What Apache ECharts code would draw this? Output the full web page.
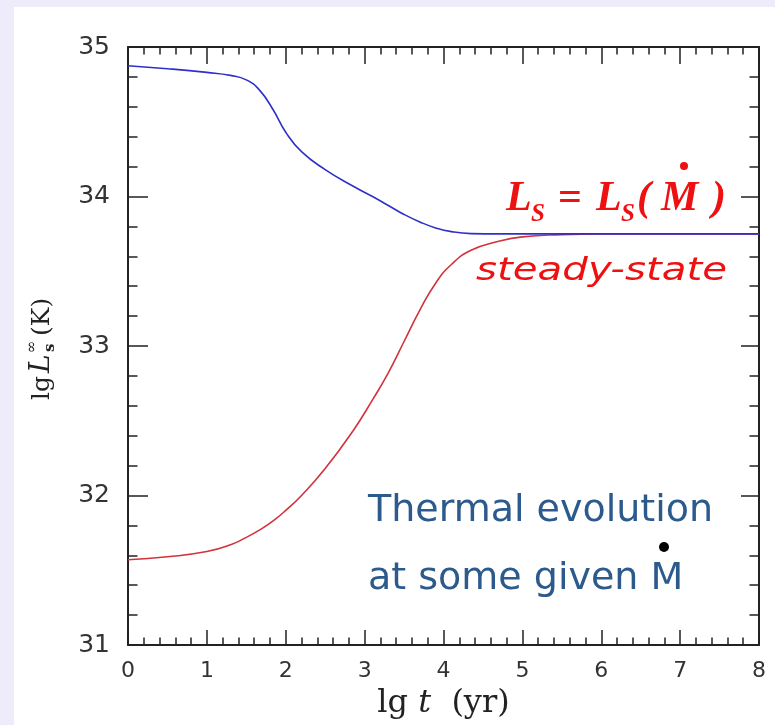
<!DOCTYPE html>
<html>
<head>
<meta charset="utf-8">
<script src="https://cdn.jsdelivr.net/npm/echarts@6/dist/echarts.min.js"></script>
<style>
  html, body { margin: 0; padding: 0; background: #ffffff; }
  #chart { width: 775px; height: 725px; }
</style>
</head>
<body>
<div id="chart"></div>
<script>
// lg t (yr) sample points shared by both cooling tracks
const lgT = [0, 0.5, 1, 1.3, 1.5, 1.67, 1.84, 2, 2.2, 2.5, 2.85, 3.1, 3.3, 3.5, 3.7, 3.9, 4.1, 4.35, 4.7, 5, 5.5, 6, 7, 8];
// hot initial star: luminosity falls to the steady-state value
const lumHot = [34.875, 34.855, 34.83, 34.81, 34.78, 34.71, 34.58, 34.43, 34.30, 34.18, 34.07, 34.00, 33.94, 33.88, 33.83, 33.79, 33.765, 33.752, 33.75, 33.75, 33.75, 33.75, 33.75, 33.75];
// cold initial star: luminosity rises to the steady-state value
const lumCold = [31.57, 31.59, 31.625, 31.67, 31.72, 31.77, 31.83, 31.90, 32.00, 32.18, 32.43, 32.64, 32.82, 33.03, 33.24, 33.42, 33.545, 33.64, 33.70, 33.73, 33.745, 33.75, 33.75, 33.75];
// axis ranges and tick steps
const xRange = [0, 8];
const yRange = [31, 35];
const tickStep = 1;

const pairs = (xs, ys) => xs.map((x, i) => [x, ys[i]]);

const axisColor = '#222222';
const serif = '"DejaVu Serif", "Liberation Serif", serif';
const times = '"Liberation Serif", serif';
const sans = '"DejaVu Sans", "Liberation Sans", sans-serif';
const hand = '"Comic Sans MS", "DejaVu Sans", sans-serif';
const red = '#ee1111';

function xAxisCfg(pos, withLabels) {
  return {
    type: 'value', position: pos,
    min: xRange[0], max: xRange[1], interval: tickStep,
    axisLine: { show: true, onZero: false, lineStyle: { color: axisColor, width: 2 } },
    axisTick: { show: true, inside: true, length: pos === 'top' ? 17 : 15, lineStyle: { color: axisColor, width: 1.5 } },
    minorTick: { show: true, splitNumber: 5, length: 7.5, lineStyle: { color: axisColor, width: 1.5 } },
    splitLine: { show: false },
    axisLabel: withLabels ? { show: true, margin: 15, color: '#333', fontFamily: sans, fontSize: 22 } : { show: false }
  };
}
function yAxisCfg(pos, withLabels) {
  return {
    type: 'value', position: pos,
    min: yRange[0], max: yRange[1], interval: tickStep,
    axisLine: { show: true, onZero: false, lineStyle: { color: axisColor, width: 2 } },
    axisTick: { show: true, inside: true, length: pos === 'right' ? 18 : 20, lineStyle: { color: axisColor, width: 1.5 } },
    minorTick: { show: true, splitNumber: 5, length: 9.5, lineStyle: { color: axisColor, width: 1.5 } },
    splitLine: { show: false },
    axisLabel: withLabels ? { show: true, margin: 18, color: '#333', fontFamily: sans, fontSize: 25 } : { show: false }
  };
}

const bottomX = xAxisCfg('bottom', true);
bottomX.name = '{r|lg }{i|t}{r|  (yr)}';
bottomX.nameLocation = 'middle';
bottomX.nameGap = 43;
bottomX.nameTextStyle = {
  rich: {
    r: { fontFamily: serif, fontSize: 32, color: '#222' },
    i: { fontFamily: serif, fontStyle: 'italic', fontSize: 32, color: '#222' }
  }
};

// one piece of the red formula, placed by its left edge and middle line
function redPiece(x, y, text, size, style) {
  return { type: 'text', x: x, y: y, style: { text: text, font: (style || 'italic bold') + ' ' + size + 'px ' + times, fill: red, verticalAlign: 'middle' } };
}

const chart = echarts.init(document.getElementById('chart'));
chart.setOption({
  backgroundColor: '#ffffff',
  animation: false,
  grid: { left: 128, right: 16, top: 47, bottom: 80 },
  xAxis: [bottomX, xAxisCfg('top', false)],
  yAxis: [yAxisCfg('left', true), yAxisCfg('right', false)],
  series: [
    {
      type: 'line', xAxisIndex: 0, yAxisIndex: 0,
      data: pairs(lgT, lumCold),
      smooth: 0.5, showSymbol: false,
      lineStyle: { color: '#d2323c', width: 1.6 }
    },
    {
      type: 'line', xAxisIndex: 0, yAxisIndex: 0,
      data: pairs(lgT, lumHot),
      smooth: 0.5, showSymbol: false,
      lineStyle: { color: '#3030c8', width: 1.6 }
    }
  ],
  graphic: [
    // lavender frame around the white panel
    { type: 'rect', shape: { x: 0, y: 0, width: 14, height: 725 }, style: { fill: '#eeebfb' }, silent: true },
    { type: 'rect', shape: { x: 0, y: 0, width: 775, height: 7 }, style: { fill: '#eeebfb' }, silent: true },

    // y axis title: lg L_s^∞ (K), reading upward
    {
      type: 'group', x: 50, y: 400, rotation: Math.PI / 2,
      children: [
        { type: 'text', x: 0, y: -7.5, style: { text: 'lg', font: '25px ' + serif, fill: '#222', verticalAlign: 'middle' } },
        { type: 'text', x: 27, y: -8.5, style: { text: 'L', font: 'italic 28px ' + serif, fill: '#222', verticalAlign: 'middle' } },
        { type: 'text', x: 48, y: 0, style: { text: 's', font: 'bold 15px ' + serif, fill: '#222', verticalAlign: 'middle' } },
        { type: 'text', x: 47, y: -18, style: { text: '∞', font: '15px ' + serif, fill: '#222', verticalAlign: 'middle' } },
        { type: 'text', x: 64, y: -7.5, style: { text: '(K)', font: '25px ' + serif, fill: '#222', verticalAlign: 'middle' } }
      ]
    },

    // steady-state formula L_S = L_S(Ṁ)
    redPiece(506, 199, 'L', 42),
    redPiece(531, 215, 'S', 25),
    redPiece(558, 199, '=', 42, 'bold'),
    redPiece(596, 199, 'L', 42),
    redPiece(621, 215, 'S', 25),
    redPiece(637, 199, '(', 42),
    redPiece(661, 199, 'M', 42),
    redPiece(712, 199, ')', 42),
    { type: 'circle', shape: { cx: 684, cy: 166, r: 4 }, style: { fill: red } },

    { type: 'text', x: 476, y: 272, scaleX: 1.26, style: { text: 'steady-state', font: 'italic 32px ' + hand, fill: red, verticalAlign: 'middle' } },

    // caption
    { type: 'text', x: 368, y: 511, style: { text: 'Thermal evolution', font: '38px ' + hand, fill: '#2c5a8c', verticalAlign: 'middle' } },
    { type: 'text', x: 368, y: 579, style: { text: 'at some given M', font: '38px ' + hand, fill: '#2c5a8c', verticalAlign: 'middle' } },
    { type: 'circle', shape: { cx: 664, cy: 547, r: 5 }, style: { fill: '#000000' } }
  ]
});
</script>
</body>
</html>
